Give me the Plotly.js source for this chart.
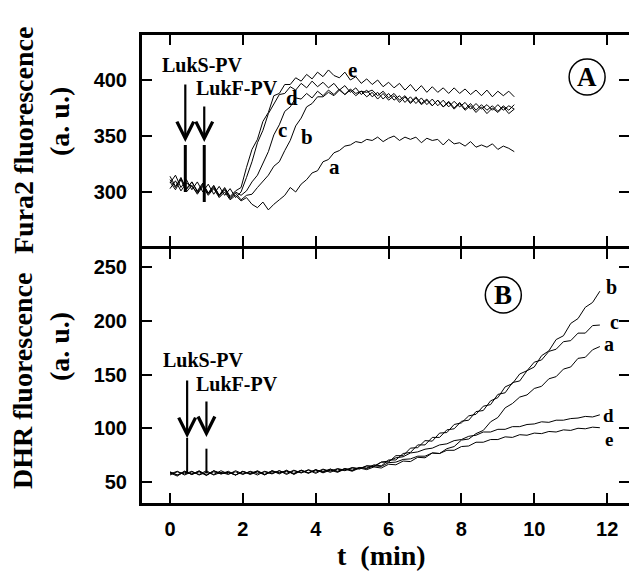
<!DOCTYPE html>
<html><head><meta charset="utf-8">
<script src="https://cdn.plot.ly/plotly-3.0.1.min.js"></script>
<style>html,body{margin:0;padding:0;background:#fff;}#chart{width:629px;height:571px;}</style>
</head><body><div id="chart"></div>
<script>
// ---- Panel A: Fura2 fluorescence (a.u.) vs t (min) ----
const tA = [0, 0.15, 0.3, 0.45, 0.6, 0.75, 0.9, 1.05,
  1.2, 1.35, 1.5, 1.65, 1.8, 1.95, 2.1, 2.25,
  2.4, 2.55, 2.7, 2.85, 3.0, 3.15, 3.3, 3.45,
  3.6, 3.75, 3.9, 4.05, 4.2, 4.35, 4.5, 4.65,
  4.8, 4.95, 5.1, 5.25, 5.4, 5.55, 5.7, 5.85,
  6.0, 6.15, 6.3, 6.45, 6.6, 6.75, 6.9, 7.05,
  7.2, 7.35, 7.5, 7.65, 7.8, 7.95, 8.1, 8.25,
  8.4, 8.55, 8.7, 8.85, 9.0, 9.15, 9.3, 9.45];
const furaA = [309, 302, 311, 300, 306, 298, 305, 297,
  303, 295, 300, 293, 297, 292, 295, 289,
  286, 291, 284, 289, 293, 297, 304, 300,
  307, 311, 317, 319, 327, 329, 335, 337,
  341, 342, 345, 344, 347, 346, 349, 345,
  348, 350, 346, 349, 347, 349, 344, 348,
  346, 347, 342, 347, 343, 344, 341, 345,
  340, 342, 340, 343, 338, 341, 339, 336];
const furaB = [303, 310, 301, 308, 305, 299, 306, 298,
  304, 296, 302, 294, 299, 293, 297, 298,
  304, 310, 315, 323, 327, 337, 346, 359,
  366, 376, 379, 385, 385, 389, 386, 391,
  387, 392, 388, 390, 389, 391, 386, 390,
  384, 388, 382, 386, 380, 385, 379, 383,
  377, 382, 376, 380, 374, 379, 373, 377,
  371, 376, 370, 375, 371, 376, 370, 374];
const furaC = [311, 304, 313, 302, 309, 300, 307, 299,
  305, 297, 303, 295, 300, 297, 301, 309,
  315, 326, 336, 351, 360, 372, 376, 384,
  383, 388, 384, 390, 386, 391, 387, 392,
  387, 391, 386, 390, 385, 389, 383, 388,
  382, 386, 380, 385, 379, 384, 378, 382,
  377, 382, 376, 381, 375, 380, 374, 379,
  373, 378, 373, 377, 372, 377, 373, 378];
const furaD = [308, 315, 304, 311, 302, 309, 300, 307,
  298, 305, 297, 303, 295, 300, 313, 327,
  344, 355, 370, 378, 387, 388, 394, 391,
  397, 393, 399, 394, 398, 393, 397, 391,
  395, 389, 393, 387, 391, 385, 389, 383,
  388, 382, 386, 380, 385, 379, 384, 378,
  383, 377, 382, 376, 381, 376, 380, 374,
  379, 374, 378, 373, 378, 373, 377, 374];
const furaE = [314, 305, 312, 303, 309, 301, 308, 299,
  306, 297, 304, 296, 301, 304, 322, 338,
  347, 363, 371, 386, 388, 396, 396, 402,
  399, 405, 401, 407, 403, 409, 404, 402,
  407, 400, 403, 397, 401, 396, 400, 394,
  398, 393, 397, 391, 396, 390, 395, 389,
  394, 389, 393, 388, 393, 388, 392, 387,
  391, 386, 391, 385, 390, 386, 390, 385];
// addition spikes (LukS-PV, LukF-PV) in panel A
const spikeTA = [0.42, 0.94];
const spikeBaseA = [300, 291];
const spikeTopA = [342, 342];

// ---- Panel B: DHR fluorescence (a.u.) vs t (min) ----
const tB = [0, 0.2, 0.4, 0.6, 0.8, 1.0, 1.2, 1.4, 1.6, 1.8,
  2.0, 2.2, 2.4, 2.6, 2.8, 3.0, 3.2, 3.4, 3.6, 3.8,
  4.0, 4.2, 4.4, 4.6, 4.8, 5.0, 5.2, 5.4, 5.6, 5.8,
  6.0, 6.2, 6.4, 6.6, 6.8, 7.0, 7.2, 7.4, 7.6, 7.8,
  8.0, 8.2, 8.4, 8.6, 8.8, 9.0, 9.2, 9.4, 9.6, 9.8,
  10.0, 10.2, 10.4, 10.6, 10.8, 11.0, 11.2, 11.4, 11.6, 11.8];
const dhrA = [58.5, 55.5, 60, 57, 59.5, 56, 60.5, 57.5, 59, 56.5,
  60, 57, 59.5, 56.5, 60.5, 57.5, 61, 57, 60.5, 58,
  61.5, 58.5, 61, 59, 62, 60, 63, 61.5, 64, 63,
  66.5, 66, 69.5, 69, 73, 72.5, 77, 76.5, 81, 83,
  89, 90, 95, 98, 106, 110, 119, 123, 129, 131,
  137, 139, 146, 148, 155, 157, 165, 166, 173, 176];
const dhrB = [57.5, 60, 56.5, 59.5, 57, 60.5, 56.5, 59, 57, 60.5,
  57.5, 59.5, 56.5, 60, 58, 60.5, 57, 60.5, 58.5, 61,
  58, 61.5, 59, 62, 60.5, 63, 62, 65, 64.5, 68.5,
  68.5, 74.5, 74.5, 81.5, 82, 88.5, 88, 95.5, 96, 103.5,
  105, 111.5, 113, 120.5, 122, 131.5, 133, 142.5, 144, 153.5,
  157, 167.5, 172, 182.5, 186, 197.5, 202, 212.5, 217, 227.5];
const dhrC = [59, 56.5, 60, 57, 60.5, 56.5, 59.5, 57.5, 60, 56.5,
  59.5, 58, 60, 57, 60.5, 58.5, 60, 57.5, 61, 58.5,
  61.5, 59, 62, 59.5, 62.5, 61, 63.5, 63, 66, 65,
  70.5, 70.5, 76.5, 77.5, 84.5, 84.5, 91.5, 91.5, 98.5, 99.5,
  106.5, 107.5, 115.5, 116.5, 125.5, 128.5, 138.5, 141.5, 150.5, 153.5,
  161.5, 163.5, 171.5, 173.5, 180.5, 181.5, 188.5, 188.5, 195.5, 196];
const dhrD = [56.5, 59.5, 57.5, 60, 56.5, 59, 57, 60.5, 57.5, 59.5,
  57, 60, 58, 59.5, 57.5, 60.5, 58, 61, 58.5, 61.5,
  59, 62, 60, 62.5, 61, 63.5, 62.5, 65, 64.5, 68.5,
  69.5, 72.5, 73.5, 77, 78, 80.5, 81.5, 84.5, 85.5, 88.5,
  89.5, 92.5, 93.5, 96.5, 96.5, 99, 99, 101.5, 101.5, 103.5,
  104, 106, 105.5, 107.5, 107.5, 109, 109.5, 111, 110.5, 112.5];
const dhrE = [59.5, 56.5, 59, 57.5, 60, 56.5, 60.5, 58, 59, 56.5,
  60, 57.5, 60.5, 57, 59.5, 58.5, 60.5, 58, 61, 58.5,
  61, 59.5, 62, 60, 62.5, 60.5, 63.5, 62.5, 65, 64.5,
  68, 68.5, 71, 71.5, 74, 74, 77, 76.5, 79.5, 79.5,
  83, 83.5, 87, 87, 89.5, 89.5, 92, 91.5, 94, 93.5,
  95.5, 95, 97, 96.5, 98.5, 98, 100, 99.5, 101, 100.5];
// addition spikes in panel B
const spikeTB = [0.47, 1.0];
const spikeBaseB = [58, 58];
const spikeTopB = [91, 81];

const curveLabels = ['a', 'b', 'c', 'd', 'e'];
const xTicks = [0, 2, 4, 6, 8, 10, 12];
const yTicksA = [300, 350, 400];
const yTicksB = [50, 100, 150, 200, 250];

// ---- traces ----
const lineStyle = {color: '#000', width: 1};
const traces = [];
[furaA, furaB, furaC, furaD, furaE].forEach((ys, i) => {
  traces.push({x: tA, y: ys, type: 'scatter', mode: 'lines', name: curveLabels[i],
    xaxis: 'x2', yaxis: 'y2', line: lineStyle, hoverinfo: 'skip'});
});
spikeTA.forEach((t, i) => {
  traces.push({x: [t, t], y: [spikeBaseA[i], spikeTopA[i]], type: 'scatter', mode: 'lines',
    xaxis: 'x2', yaxis: 'y2', line: {color: '#000', width: 3}, hoverinfo: 'skip'});
});
[dhrA, dhrB, dhrC, dhrD, dhrE].forEach((ys, i) => {
  traces.push({x: tB, y: ys, type: 'scatter', mode: 'lines', name: curveLabels[i],
    xaxis: 'x', yaxis: 'y', line: lineStyle, hoverinfo: 'skip'});
});
spikeTB.forEach((t, i) => {
  traces.push({x: [t, t], y: [spikeBaseB[i], spikeTopB[i]], type: 'scatter', mode: 'lines',
    xaxis: 'x', yaxis: 'y', line: {color: '#000', width: 2}, hoverinfo: 'skip'});
});

// ---- layout ----
const tickFont = {family: 'Liberation Sans, Arial, sans-serif', size: 20, color: '#000', weight: 'bold'};
const serif = (size) => ({family: 'Liberation Serif, Times New Roman, serif', size: size, color: '#000', weight: 'bold'});
const axisCommon = {
  showline: true, linewidth: 3, linecolor: '#000', mirror: 'ticks',
  ticks: 'inside', ticklen: 10, tickwidth: 2, tickcolor: '#000',
  showgrid: false, zeroline: false, tickfont: tickFont, fixedrange: true
};
const xRange = [-0.769, 12.6];

const layout = {
  width: 629, height: 571,
  margin: {l: 142, r: 0, t: 35, b: 68},
  paper_bgcolor: '#fff', plot_bgcolor: '#fff',
  showlegend: false,
  xaxis: Object.assign({}, axisCommon, {domain: [0, 1], anchor: 'y', range: xRange,
    tickvals: xTicks, ticklabelstandoff: 6}),
  xaxis2: Object.assign({}, axisCommon, {domain: [0, 1], anchor: 'y2', range: xRange,
    tickvals: xTicks, showticklabels: false}),
  yaxis: Object.assign({}, axisCommon, {domain: [0, 0.5438], anchor: 'x', range: [30.47, 267.2],
    tickvals: yTicksB, ticklabelstandoff: 8}),
  yaxis2: Object.assign({}, axisCommon, {domain: [0.5502, 1], anchor: 'x2', range: [252.2, 440.2],
    tickvals: yTicksA, ticklabelstandoff: 8}),
  annotations: [],
  shapes: []
};

const ann = layout.annotations;
function label(text, x, y, xref, yref, size) {
  ann.push({text: text, x: x, y: y, xref: xref, yref: yref, showarrow: false,
    xanchor: 'center', yanchor: 'middle', font: serif(size)});
}
function arrow(x, yTip, yTail, xref, yref) {
  ann.push({text: '', x: x, y: yTip, ax: x, ay: yTail, axref: xref, ayref: yref,
    xref: xref, yref: yref, showarrow: true, arrowhead: 5, arrowsize: 1.5,
    arrowwidth: 2.2, arrowcolor: '#000', standoff: 0});
}
// panel A curve labels
label('e', 5.01, 409, 'x2', 'y2', 21);
label('d', 3.34, 384, 'x2', 'y2', 21);
label('c', 3.1, 355, 'x2', 'y2', 21);
label('b', 3.75, 349, 'x2', 'y2', 21);
label('a', 4.52, 322, 'x2', 'y2', 21);
label('LukS-PV', 0.88, 413, 'x2', 'y2', 20);
label('LukF-PV', 1.84, 393, 'x2', 'y2', 20);
arrow(spikeTA[0], 344.6, 397.3, 'x2', 'y2');
arrow(spikeTA[1], 344.6, 377.7, 'x2', 'y2');
label('A', 11.45, 402.7, 'x2', 'y2', 27);
// panel B curve labels
label('b', 12.12, 231, 'x', 'y', 20);
label('c', 12.2, 199, 'x', 'y', 20);
label('a', 12.05, 178.5, 'x', 'y', 20);
label('d', 12.05, 111.5, 'x', 'y', 19);
label('e', 12.05, 90, 'x', 'y', 19);
label('LukS-PV', 0.93, 163.5, 'x', 'y', 20);
label('LukF-PV', 1.84, 141, 'x', 'y', 20);
arrow(spikeTB[0], 90.9, 145.8, 'x', 'y');
arrow(spikeTB[1], 91.9, 126.3, 'x', 'y');
label('B', 9.15, 224, 'x', 'y', 27);
// axis titles
function ptitle(text, x, y, angle) {
  ann.push({text: text, x: x, y: y, xref: 'paper', yref: 'paper', showarrow: false,
    xanchor: 'center', yanchor: 'middle', textangle: angle, font: serif(28)});
}
ptitle('Fura2 fluorescence', -0.2444, 0.7756, -90);
ptitle('(a. u.)', -0.1704, 0.8141, -90);
ptitle('DHR fluorescence', -0.2444, 0.2607, -90);
ptitle('(a. u.)', -0.1704, 0.3333, -90);
ptitle('t\u00a0\u00a0(min)', 0.4928, -0.1132, 0);

// panel letter circles
function circle(x, y, xref, yref) {
  layout.shapes.push({type: 'circle', xref: xref, yref: yref, xsizemode: 'pixel', ysizemode: 'pixel',
    xanchor: x, yanchor: y, x0: -18, x1: 18, y0: -18, y1: 18, line: {color: '#000', width: 1.5}});
}
circle(11.45, 402.7, 'x2', 'y2');
circle(9.15, 224, 'x', 'y');

Plotly.newPlot('chart', traces, layout, {staticPlot: true, displayModeBar: false});
</script>
</body></html>
